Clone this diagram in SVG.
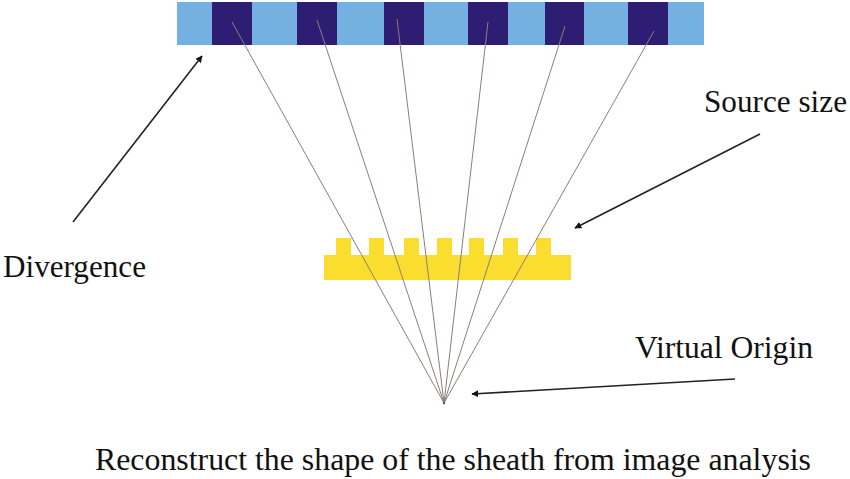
<svg xmlns="http://www.w3.org/2000/svg" width="850" height="479" viewBox="0 0 850 479">
<style>
.lbl{font-family:"Liberation Serif","Times New Roman",serif;font-size:31px;fill:#111;}
.ray{stroke:#8a7f78;stroke-width:1;fill:none;}
.arw{stroke:#222;stroke-width:1.6;fill:none;marker-end:url(#ah);}
.lb{fill:#74b1e0;}
.db{fill:#2d1e73;}
.yl{fill:#fadd2f;}
</style>
<defs>
<marker id="ah" viewBox="0 0 10 10" refX="9" refY="5" markerWidth="7" markerHeight="7" markerUnits="userSpaceOnUse" orient="auto">
<path d="M0,0 L10,5 L0,10 Z" fill="#111"/>
</marker>
</defs>
<g id="detector">
<rect class="lb" x="177" y="2" width="527" height="43"/>
<rect class="db" x="212" y="2" width="40" height="43"/>
<rect class="db" x="297" y="2" width="40" height="43"/>
<rect class="db" x="384" y="2" width="40" height="43"/>
<rect class="db" x="468" y="2" width="40" height="43"/>
<rect class="db" x="545" y="2" width="39" height="43"/>
<rect class="db" x="628" y="2" width="40" height="43"/>
</g>
<g id="source">
<rect class="yl" x="324" y="255" width="247" height="25"/>
<rect class="yl" x="336" y="238" width="15" height="18"/>
<rect class="yl" x="369" y="238" width="15" height="18"/>
<rect class="yl" x="404" y="238" width="15" height="18"/>
<rect class="yl" x="437" y="238" width="15" height="18"/>
<rect class="yl" x="469" y="238" width="15" height="18"/>
<rect class="yl" x="503" y="238" width="15" height="18"/>
<rect class="yl" x="536" y="238" width="15" height="18"/>
</g>
<g id="connectors">
<line class="ray" x1="232" y1="22" x2="444" y2="403"/>
<line class="ray" x1="317" y1="20" x2="444" y2="403"/>
<line class="ray" x1="397" y1="19" x2="444" y2="403"/>
<line class="ray" x1="488" y1="22" x2="444" y2="403"/>
<line class="ray" x1="565" y1="26" x2="444" y2="403"/>
<line class="ray" x1="654" y1="31" x2="444" y2="403"/>
<circle cx="444" cy="403" r="1.2" fill="#555"/>
<line class="arw" x1="73" y1="222" x2="202" y2="56"/>
<line class="arw" x1="760" y1="134" x2="575" y2="228"/>
<line class="arw" x1="735" y1="379" x2="472" y2="394"/>
</g>
<g id="labels">
<text class="lbl" x="3" y="277" textLength="143" lengthAdjust="spacingAndGlyphs">Divergence</text>
<text class="lbl" x="704" y="112" textLength="143" lengthAdjust="spacingAndGlyphs">Source size</text>
<text class="lbl" x="635" y="358" textLength="178" lengthAdjust="spacingAndGlyphs">Virtual Origin</text>
<text class="lbl" x="95" y="470" style="font-size:32px" textLength="716" lengthAdjust="spacingAndGlyphs">Reconstruct the shape of the sheath from image analysis</text>
</g>
</svg>
